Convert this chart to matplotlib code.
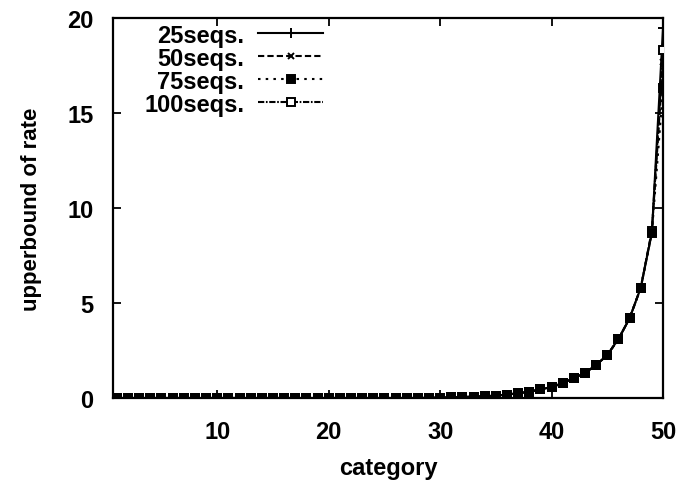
import numpy as np
import matplotlib.pyplot as plt

plt.rcParams['font.family'] = ['Liberation Sans', 'DejaVu Sans']
plt.rcParams['font.weight'] = 'bold'

# category index 1..50
category = list(range(1, 51))

# values (the four series nearly overlap)
rate_25 = [0.0] * 28 + [0.01, 0.02, 0.03, 0.05, 0.07, 0.09, 0.13, 0.18, 0.25,
                        0.33, 0.45, 0.58, 0.78, 1.05, 1.32, 1.73, 2.27, 3.1,
                        4.2, 5.8, 8.7, 19.5]
rate_50 = [0.0] * 28 + [0.01, 0.02, 0.03, 0.05, 0.07, 0.09, 0.13, 0.18, 0.25,
                        0.33, 0.45, 0.58, 0.78, 1.05, 1.32, 1.73, 2.27, 3.1,
                        4.2, 5.8, 8.8, 17.7]
rate_75 = [0.0] * 28 + [0.01, 0.02, 0.03, 0.05, 0.07, 0.09, 0.13, 0.18, 0.25,
                        0.33, 0.45, 0.58, 0.78, 1.05, 1.32, 1.73, 2.27, 3.1,
                        4.2, 5.8, 8.7, 16.3]
rate_100 = [0.0] * 28 + [0.01, 0.02, 0.03, 0.05, 0.07, 0.09, 0.13, 0.18, 0.25,
                         0.33, 0.45, 0.58, 0.78, 1.05, 1.32, 1.73, 2.27, 3.1,
                         4.2, 5.8, 8.8, 18.3]

labels = ['25seqs.', '50seqs.', '75seqs.', '100seqs.']
xticks = [10, 20, 30, 40, 50]
yticks = [0, 5, 10, 15, 20]

fig = plt.figure(figsize=(6.82, 4.85), dpi=100)
ax = fig.add_axes([0.1657, 0.1773, 0.8065, 0.7835])

series = [rate_25, rate_50, rate_75, rate_100]
styles = [
    dict(linestyle='-', marker='+', markersize=7, mfc='black', zorder=3),
    dict(linestyle=(0, (3, 1.5)), marker='x', markersize=5, mfc='black', zorder=3),
    dict(linestyle=(0, (1.2, 2.5)), marker='s', markersize=5.5, mfc='black', zorder=5),
    dict(linestyle=(0, (3, 0.8, 0.8, 0.8)), marker='s', markersize=5.5, mfc='white', zorder=4),
]
for vals, lab, st in zip(series, labels, styles):
    ax.plot(category, vals, color='black', linewidth=1.5, mec='black',
            mew=1.4, label=lab, **st)

ax.set_xlim(0.65, 50)
ax.set_ylim(0, 20)
ax.set_xticks(xticks)
ax.set_yticks(yticks)
ax.tick_params(direction='in', length=6, width=1.3, top=True, right=True,
               labelsize=17)
ax.tick_params(axis='x', pad=16)
ax.tick_params(axis='y', pad=14)
for lbl in ax.get_xticklabels() + ax.get_yticklabels():
    lbl.set_fontweight('bold')
for sp in ax.spines.values():
    sp.set_linewidth(1.6)

ax.set_xlabel('category', fontsize=17, fontweight='bold', labelpad=9)
ax.set_ylabel('upperbound of rate', fontsize=16, fontweight='bold', labelpad=18)

leg = fig.legend(loc='upper left', bbox_to_anchor=(0.2112, 0.949), frameon=False,
                 markerfirst=False, fontsize=17, handlelength=2.75,
                 handletextpad=0.6, labelspacing=0.0, borderpad=0,
                 borderaxespad=0)
for t in leg.get_texts():
    t.set_fontweight('bold')

fig.savefig('out.png', dpi=100)
